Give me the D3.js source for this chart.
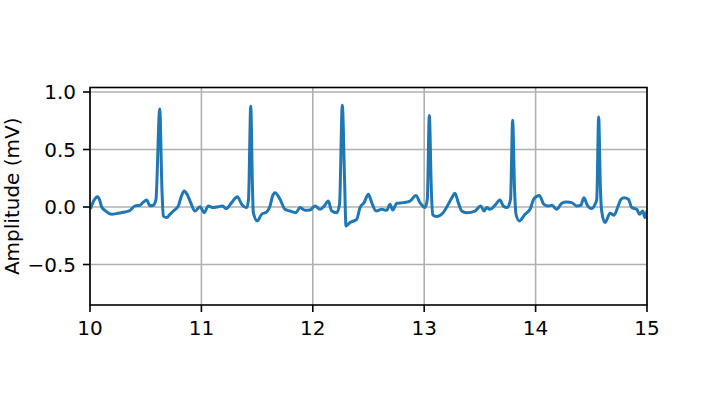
<!DOCTYPE html>
<html><head><meta charset="utf-8">
<script src="https://cdn.jsdelivr.net/npm/d3@7"></script>
<style>html,body{margin:0;padding:0;background:#fff}svg{display:block}</style>
</head><body>
<script>
const timeS = [10.009,10.036,10.069,10.090,10.105,10.144,10.195,10.251,10.314,10.359,10.404,10.449,10.476,10.509,10.539,10.568,10.592,10.626,10.646,10.658,10.689,10.718,10.748,10.793,10.817,10.846,10.871,10.898,10.943,10.987,11.026,11.062,11.107,11.152,11.191,11.221,11.272,11.322,11.362,11.407,11.423,11.443,11.459,11.466,11.502,11.541,11.586,11.616,11.638,11.661,11.706,11.750,11.795,11.849,11.885,11.930,11.975,12.020,12.065,12.101,12.139,12.170,12.215,12.240,12.265,12.285,12.298,12.334,12.394,12.424,12.460,12.499,12.529,12.568,12.619,12.664,12.693,12.718,12.753,12.812,12.873,12.926,12.962,13.007,13.028,13.046,13.064,13.076,13.112,13.171,13.216,13.250,13.276,13.306,13.337,13.381,13.456,13.507,13.537,13.561,13.591,13.636,13.680,13.710,13.746,13.775,13.794,13.811,13.824,13.854,13.905,13.950,13.986,14.033,14.075,14.114,14.147,14.189,14.234,14.279,14.324,14.369,14.405,14.434,14.464,14.503,14.533,14.549,14.566,14.582,14.593,14.623,14.668,14.704,14.743,14.767,14.794,14.833,14.863,14.908,14.932,14.962,14.982,15.0];
const amplitudeMV = [-0.005,0.058,0.09,0.05,0.0,-0.037,-0.063,-0.055,-0.043,-0.03,0.01,0.015,0.04,0.06,0.01,0.015,0.067,0.853,0.15,-0.078,-0.092,-0.063,-0.035,0.01,0.084,0.139,0.11,0.052,-0.035,0.003,-0.049,0.009,-0.005,0.003,0.009,-0.014,0.038,0.09,0.023,-0.005,0.067,0.875,0.15,-0.049,-0.121,-0.063,-0.043,0.009,0.093,0.125,0.067,-0.02,-0.035,-0.049,-0.005,-0.029,-0.026,0.009,-0.02,0.006,0.052,-0.035,-0.049,0.023,0.884,0.24,-0.165,-0.135,-0.107,-0.005,0.038,0.11,0.038,-0.035,-0.02,-0.029,0.023,-0.026,0.032,0.038,0.052,0.101,0.038,-0.005,0.067,0.795,0.153,-0.068,-0.083,-0.049,0.023,0.084,0.119,0.038,-0.035,-0.049,-0.035,0.009,-0.035,-0.005,-0.02,0.015,0.061,0.009,-0.005,0.067,0.754,0.153,-0.063,-0.121,-0.063,-0.02,0.073,0.101,0.023,0.009,0.015,-0.02,0.032,0.043,0.038,0.009,0.015,0.081,0.015,-0.014,0.023,0.067,0.783,0.153,-0.035,-0.135,-0.055,-0.072,0.015,0.067,0.081,0.067,-0.005,-0.02,-0.063,-0.035,-0.092,-0.037];
const xTicks = [10, 11, 12, 13, 14, 15];
const xTickLabels = ["10", "11", "12", "13", "14", "15"];
const yTicks = [-0.5, 0.0, 0.5, 1.0];
const yTickLabels = ["\u22120.5", "0.0", "0.5", "1.0"];
const yLabel = "Amplitude (mV)";

const W = 719, H = 395;
const L = 90, R = 647, T = 87.5, B = 305;
const font = "'DejaVu Sans', sans-serif";
const FS = 20;
const svg = d3.select("body").append("svg").attr("width", W).attr("height", H);
svg.append("rect").attr("width", W).attr("height", H).attr("fill", "#fff");

const x = d3.scaleLinear().domain([10, 15]).range([L, R]);
const y = d3.scaleLinear().domain([-0.852, 1.039]).range([B, T]);

// grid
const g = svg.append("g");
g.selectAll(".gx").data(xTicks).enter().append("line")
  .attr("x1", d => x(d)).attr("x2", d => x(d)).attr("y1", T).attr("y2", B)
  .attr("stroke", "#b0b0b0").attr("stroke-width", 1.6);
g.selectAll(".gy").data(yTicks).enter().append("line")
  .attr("x1", L).attr("x2", R).attr("y1", d => y(d)).attr("y2", d => y(d))
  .attr("stroke", "#b0b0b0").attr("stroke-width", 1.6);

// clip + line
svg.append("clipPath").attr("id", "clip").append("rect")
  .attr("x", L).attr("y", T).attr("width", R - L).attr("height", B - T);
const pts = timeS.map((t, i) => [t, amplitudeMV[i]]);
const line = d3.line().x(d => x(d[0])).y(d => y(d[1])).curve(d3.curveMonotoneX);
svg.append("path").attr("d", line(pts)).attr("clip-path", "url(#clip)")
  .attr("fill", "none").attr("stroke", "#1f77b4").attr("stroke-width", 3)
  .attr("stroke-linejoin", "round").attr("stroke-linecap", "square");

// spines
svg.append("rect").attr("x", L).attr("y", T).attr("width", R - L).attr("height", B - T)
  .attr("fill", "none").attr("stroke", "#000").attr("stroke-width", 1.6);

// x ticks
const xa = svg.append("g");
xTicks.forEach((d, i) => {
  xa.append("line").attr("x1", x(d)).attr("x2", x(d)).attr("y1", B).attr("y2", B + 7)
    .attr("stroke", "#000").attr("stroke-width", 1.6);
  xa.append("text").attr("x", x(d)).attr("y", 335).attr("text-anchor", "middle")
    .attr("font-family", font).attr("font-size", FS).attr("fill", "#000").text(xTickLabels[i]);
});
// y ticks
const ya = svg.append("g");
yTicks.forEach((d, i) => {
  ya.append("line").attr("x1", L - 7).attr("x2", L).attr("y1", y(d)).attr("y2", y(d))
    .attr("stroke", "#000").attr("stroke-width", 1.6);
  ya.append("text").attr("x", L - 14).attr("y", y(d) + 7.3).attr("text-anchor", "end")
    .attr("font-family", font).attr("font-size", FS).attr("fill", "#000").text(yTickLabels[i]);
});
svg.append("text").attr("transform", `translate(19,${(T + B) / 2}) rotate(-90)`)
  .attr("text-anchor", "middle").attr("font-family", font).attr("font-size", FS)
  .attr("fill", "#000").text(yLabel);
</script>
</body></html>
